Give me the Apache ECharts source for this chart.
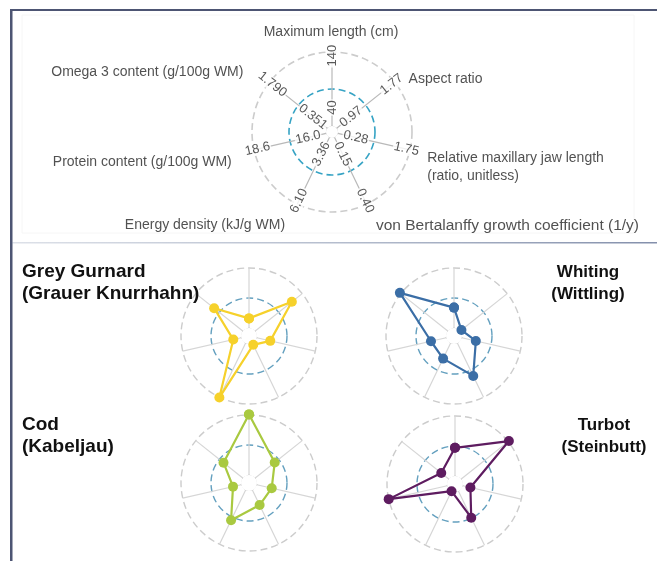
<!DOCTYPE html>
<html>
<head>
<meta charset="utf-8">
<script src="https://cdn.jsdelivr.net/npm/echarts@6/dist/echarts.min.js"></script>
<style>
  html, body { margin: 0; padding: 0; background: #fff; }
  #chart { width: 657px; height: 561px; }
</style>
</head>
<body>
<div id="chart"></div>
<script>
// spokes, clockwise from the top
const axisNames = [
  'Maximum length (cm)',
  'Aspect ratio',
  'Relative maxillary jaw length\n(ratio, unitless)',
  'von Bertalanffy growth coefficient (1/y)',
  'Energy density (kJ/g WM)',
  'Protein content (g/100g WM)',
  'Omega 3 content (g/100g WM)'
];
const innerTicks = ['40', '0.97', '0.28', '0.15', '3.36', '16.0', '0.351'];
const outerTicks = ['140', '1.77', '1.75', '0.40', '6.10', '18.6', '1.790'];

// position on each spoke: 0 = centre, 1 = blue ring, 2 = outer ring
const greyGurnard = [0.32, 1.56, 0.46, 0.06, 2.01, 0.27, 1.22];
const whiting = [0.68, 0.05, 0.48, 1.21, 0.57, 0.52, 2.04];
const cod = [2.02, 0.83, 0.51, 0.55, 1.11, 0.28, 0.82];
const turbot = [0.94, 2.03, 0.26, 0.98, 0.0, 2.0, 0.32];

const fishNames = ['Grey Gurnard\n(Grauer Knurrhahn)', 'Whiting\n(Wittling)', 'Cod\n(Kabeljau)', 'Turbot\n(Steinbutt)'];
const fishColors = ['#f6d12b', '#3b6ea6', '#a9c940', '#5e1c60'];
const fishData = [greyGurnard, whiting, cod, turbot];

const FONT = 'Liberation Sans, Arial, Helvetica, sans-serif';
const N = axisNames.length;

const chart = echarts.init(document.getElementById('chart'));

// top legend chart + four small ones
const polars = [
  { center: [332, 132], radius: [6, 80] },
  { center: [249, 336], radius: [8, 68] },
  { center: [454, 336], radius: [8, 68] },
  { center: [249, 483], radius: [8, 68] },
  { center: [455, 484], radius: [8, 68] }
];

// value angle axis: spoke k sits at k, N closes the circle
const angleAxis = polars.map((p, i) => ({
  polarIndex: i,
  type: 'value',
  min: 0,
  max: N,
  interval: 1,
  startAngle: 90,
  axisLine: { show: false },
  axisTick: { show: false },
  axisLabel: { show: false },
  splitLine: { show: true, lineStyle: { color: i === 0 ? '#b9b9b9' : '#d6d6d6', width: 1.2 } }
}));

const radiusAxis = polars.map((p, i) => ({
  polarIndex: i,
  type: 'value',
  min: 0,
  max: 2,
  interval: 1,
  axisLine: { show: false },
  axisTick: { show: false },
  axisLabel: { show: false },
  splitLine: {
    show: true,
    lineStyle: {
      color: ['rgba(0,0,0,0)', i === 0 ? '#36a3c4' : '#64a0bf', '#cccccc'],
      width: i === 0 ? 1.6 : 1.4,
      type: [7, 4]
    }
  }
}));

function closed(values) {
  const pts = values.map((v, k) => [v, k]);
  pts.push([values[0], N]);
  return pts;
}

const series = [];

// small centre polygon of each chart
polars.forEach((p, i) => {
  series.push({
    type: 'line',
    coordinateSystem: 'polar',
    polarIndex: i,
    data: closed(axisNames.map(() => 0)),
    symbol: 'none',
    silent: true,
    clip: false,
    lineStyle: { color: '#c4c4c4', width: 1 },
    z: 1
  });
});

// the four fish profiles
fishData.forEach((vals, i) => {
  series.push({
    type: 'line',
    coordinateSystem: 'polar',
    polarIndex: i + 1,
    name: fishNames[i],
    data: closed(vals),
    symbol: 'circle',
    symbolSize: 10,
    clip: false,
    lineStyle: { color: fishColors[i], width: 2.2 },
    itemStyle: { color: fishColors[i] },
    z: 3
  });
});

// tick values written along the spokes of the top chart
function spokeRotate(k) {
  let a = 90 - k * 360 / N;
  while (a > 90) a -= 180;
  while (a <= -90) a += 180;
  return a;
}
function tickLabels(ticks, pos) {
  return ticks.map((t, k) => ({
    value: [pos, k],
    label: { formatter: t, rotate: spokeRotate(k) }
  }));
}
series.push({
  type: 'scatter',
  coordinateSystem: 'polar',
  polarIndex: 0,
  symbolSize: 1,
  clip: false,
  itemStyle: { color: 'rgba(0,0,0,0)' },
  silent: true,
  z: 4,
  label: {
    show: true,
    position: 'inside',
    color: '#2e2e2e',
    fontSize: 13,
    fontFamily: FONT,
    backgroundColor: '#fff',
    padding: [0, 1]
  },
  data: tickLabels(innerTicks, 0.5).concat(tickLabels(outerTicks, 1.9))
});

// axis names around the top chart
const nameAlign = ['center', 'left', 'left', 'left', 'right', 'right', 'right'];
const nameOffset = [[-1, -3], [1, 7], [1, 14], [2, 7], [-5, 6], [-6, 9], [-13, 0]];
const nameSize = [14, 14, 14, 15.5, 14, 14, 14];
series.push({
  type: 'scatter',
  coordinateSystem: 'polar',
  polarIndex: 0,
  symbolSize: 1,
  clip: false,
  itemStyle: { color: 'rgba(0,0,0,0)' },
  silent: true,
  z: 4,
  label: {
    show: true,
    position: 'inside',
    color: '#262626',
    lineHeight: 18,
    fontFamily: FONT,
    verticalAlign: 'middle'
  },
  data: axisNames.map((n, k) => ({
    value: [2.45, k],
    label: { formatter: n, align: nameAlign[k], offset: nameOffset[k], fontSize: nameSize[k] }
  }))
});

const titleLeft = { fontSize: 19, fontWeight: 'bold', color: '#111', lineHeight: 22, fontFamily: FONT };
const titleRight = { fontSize: 17, fontWeight: 'bold', color: '#111', lineHeight: 22, fontFamily: FONT };

chart.setOption({
  backgroundColor: '#fff',
  animation: false,
  title: [
    { text: fishNames[0], left: 22, top: 261, padding: 0, textStyle: titleLeft },
    { text: fishNames[1], left: 588, top: 261, padding: 0, textAlign: 'center', textStyle: titleRight },
    { text: fishNames[2], left: 22, top: 414, padding: 0, textStyle: titleLeft },
    { text: fishNames[3], left: 604, top: 414, padding: 0, textAlign: 'center', textStyle: titleRight }
  ],
  polar: polars,
  angleAxis: angleAxis,
  radiusAxis: radiusAxis,
  series: series,
  graphic: [
    { type: 'rect', silent: true, z: -1, shape: { x: 22, y: 15, width: 612, height: 218 }, style: { fill: null, stroke: '#f6f6f6', lineWidth: 1 } },
    { type: 'rect', silent: true, shape: { x: 10, y: 9, width: 647, height: 2 }, style: { fill: '#4d5573' } },
    { type: 'rect', silent: true, shape: { x: 10, y: 9, width: 2.5, height: 552 }, style: { fill: '#4d5573' } },
    {
      type: 'rect', silent: true, shape: { x: 12, y: 242, width: 645, height: 1.5 },
      style: {
        fill: new echarts.graphic.LinearGradient(0, 0, 1, 0, [
          { offset: 0, color: 'rgba(120,135,165,0.25)' },
          { offset: 0.5, color: 'rgba(120,135,165,0.55)' },
          { offset: 1, color: 'rgba(100,115,150,0.8)' }
        ])
      }
    }
  ]
});
</script>
</body>
</html>
